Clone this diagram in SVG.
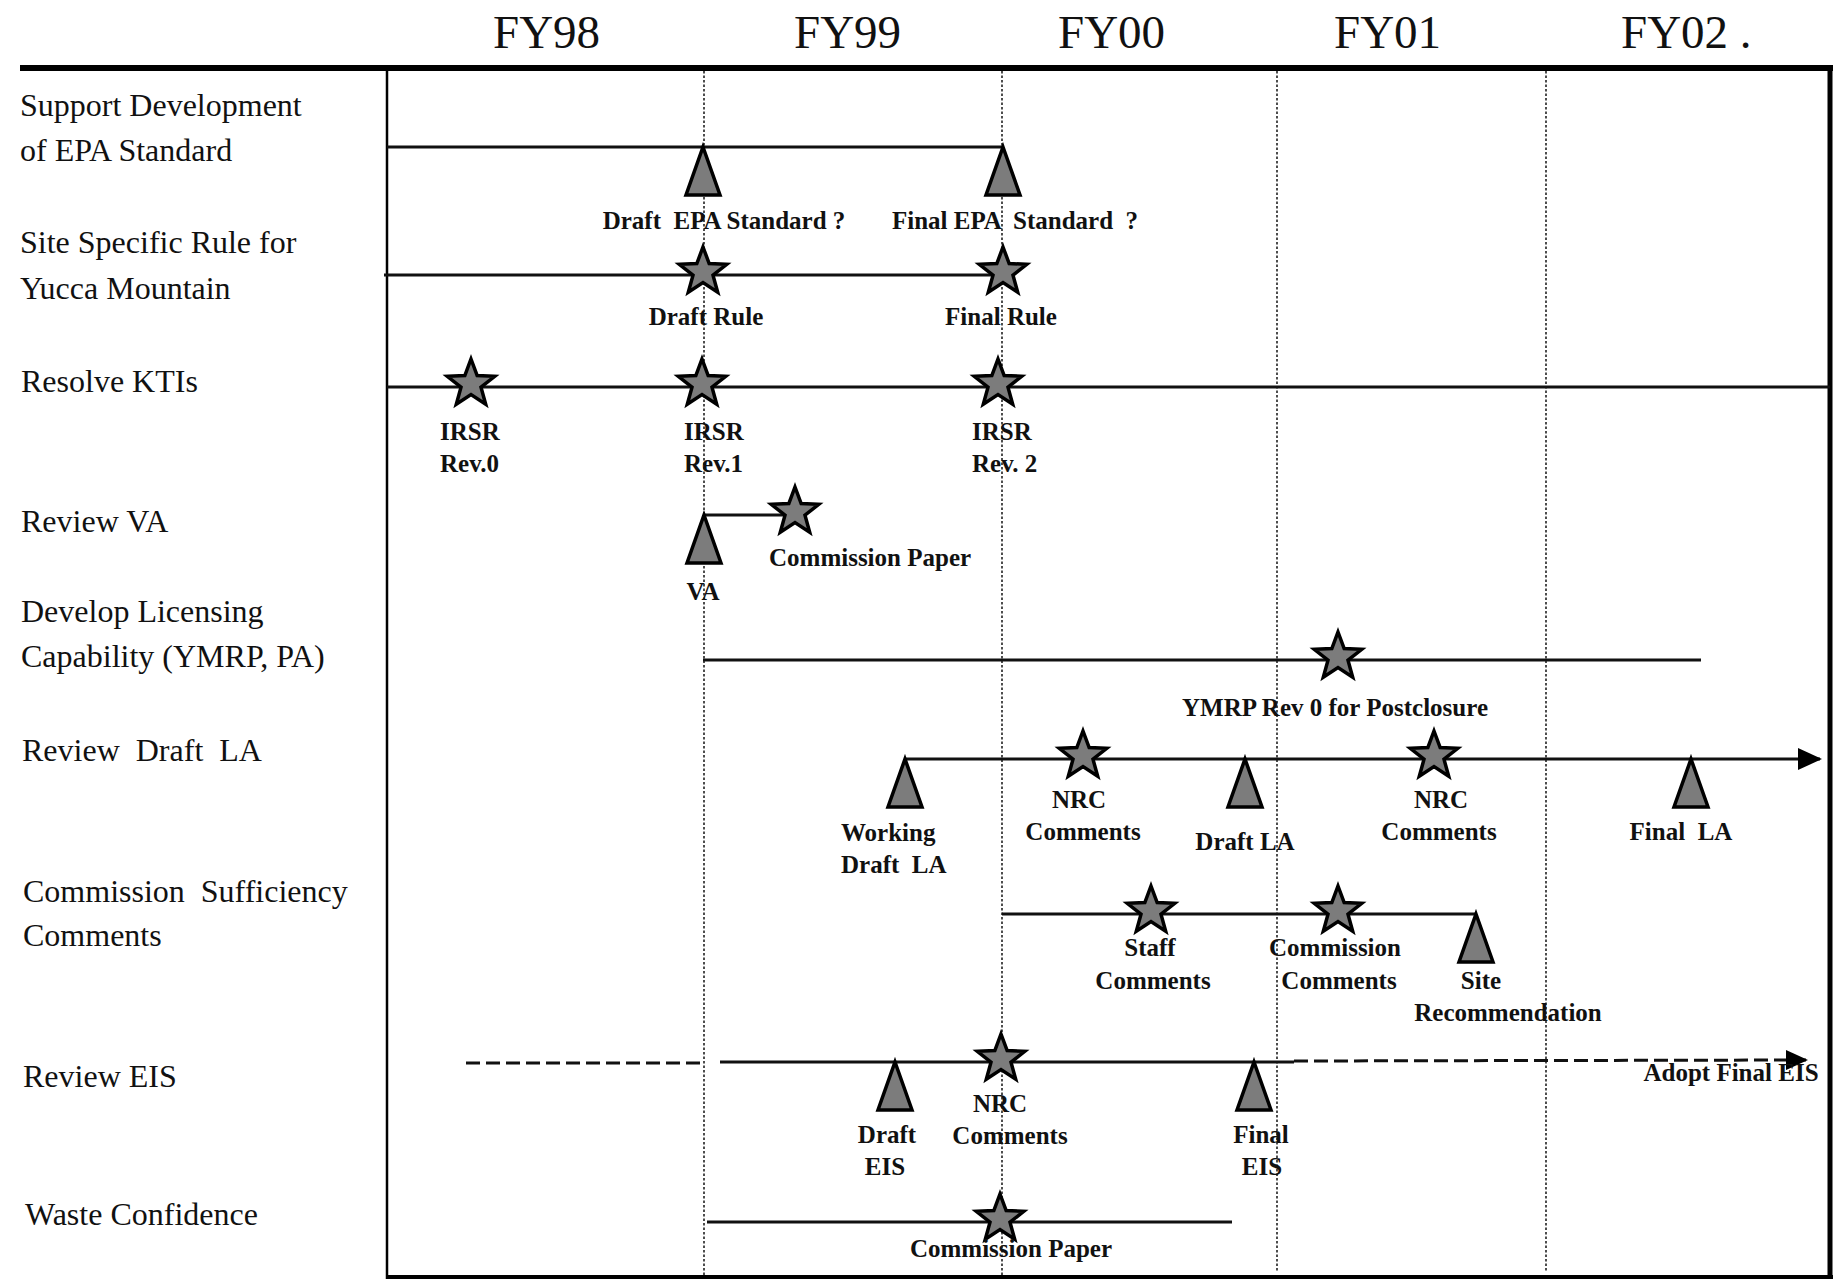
<svg xmlns="http://www.w3.org/2000/svg" xmlns:xlink="http://www.w3.org/1999/xlink" width="1837" height="1280" viewBox="0 0 1837 1280">
<style>
  text { font-family: "Liberation Serif", "Times New Roman", serif; fill: #111; }
  .hdr { font-size: 47px; }
  .row { font-size: 32px; }
  .lbl { font-size: 25px; font-weight: bold; }
  .m { text-anchor: middle; }
  .tl { stroke: #111; stroke-width: 3; fill: none; }
  .dash { stroke-dasharray: 14 6; }
  .grid { stroke: #222; stroke-width: 1.6; stroke-dasharray: 2.5 2; fill: none; }
  .frame { stroke: #000; fill: none; }
  .mk { fill: #7c7c7c; stroke: #000; stroke-width: 3.5; stroke-linejoin: miter; stroke-miterlimit: 10; }
</style>
<defs>
  <path id="star" d="M0,-28 L6.17,-11.49 L23.78,-10.73 L9.99,0.24 L14.69,17.23 L0,7.5 L-14.69,17.23 L-9.99,0.24 L-23.78,-10.73 L-6.17,-11.49 Z"/>
  <path id="tri" d="M0,0 L17,48 L-17,48 Z"/>
  <marker id="arr" markerUnits="userSpaceOnUse" markerWidth="24" markerHeight="22" viewBox="0 0 24 22" refX="22" refY="11" orient="auto">
    <path d="M0,0 L24,11 L0,22 Z" fill="#000"/>
  </marker>
  <marker id="arr2" markerUnits="userSpaceOnUse" markerWidth="22" markerHeight="20" viewBox="0 0 22 20" refX="20" refY="10" orient="auto">
    <path d="M0,0 L22,10 L0,20 Z" fill="#000"/>
  </marker>
</defs>

<rect x="0" y="0" width="1837" height="1280" fill="#fff"/>

<!-- frame and grid -->
<g id="frame">
  <line class="frame" x1="20" y1="68" x2="1833" y2="68" stroke-width="6"/>
  <line class="frame" x1="387" y1="68" x2="387" y2="1279" stroke-width="2.5"/>
  <line class="frame" x1="1830" y1="65" x2="1830" y2="1279" stroke-width="5"/>
  <line class="frame" x1="386" y1="1277" x2="1833" y2="1277" stroke-width="4"/>
  <line class="grid" x1="704" y1="71" x2="704" y2="1275"/>
  <line class="grid" x1="1002" y1="71" x2="1002" y2="1275"/>
  <line class="grid" x1="1277" y1="71" x2="1277" y2="1272"/>
  <line class="grid" x1="1546" y1="71" x2="1546" y2="1272"/>
</g>

<!-- year headers -->
<g id="headers">
  <text class="hdr" x="493" y="48">FY98</text>
  <text class="hdr" x="794" y="48">FY99</text>
  <text class="hdr" x="1058" y="48">FY00</text>
  <text class="hdr" x="1334" y="48">FY01</text>
  <text class="hdr" x="1621" y="48">FY02 .</text>
</g>

<!-- row labels -->
<g id="row-labels">
  <g id="row-epa"><text class="row" x="20" y="116">Support Development</text><text class="row" x="20" y="161">of EPA Standard</text></g>
  <g id="row-rule"><text class="row" x="20" y="253">Site Specific Rule for</text><text class="row" x="20" y="299">Yucca Mountain</text></g>
  <g id="row-kti"><text class="row" x="21" y="392">Resolve KTIs</text></g>
  <g id="row-va"><text class="row" x="21" y="532">Review VA</text></g>
  <g id="row-lic"><text class="row" x="21" y="622">Develop Licensing</text><text class="row" x="21" y="667">Capability (YMRP, PA)</text></g>
  <g id="row-la"><text class="row" x="22" y="761" xml:space="preserve">Review  Draft  LA</text></g>
  <g id="row-suff"><text class="row" x="23" y="902" xml:space="preserve">Commission  Sufficiency</text><text class="row" x="23" y="946">Comments</text></g>
  <g id="row-eis"><text class="row" x="23" y="1087">Review EIS</text></g>
  <g id="row-waste"><text class="row" x="25" y="1225">Waste Confidence</text></g>
</g>

<!-- connectors: timeline bars -->
<g id="connectors">
  <line class="tl" x1="387" y1="147" x2="1003" y2="147"/>
  <line class="tl" x1="384" y1="275" x2="1003" y2="275"/>
  <line class="tl" x1="387" y1="387" x2="1830" y2="387"/>
  <line class="tl" x1="704" y1="515" x2="795" y2="515"/>
  <line class="tl" x1="703" y1="660" x2="1701" y2="660"/>
  <line class="tl" x1="904" y1="759" x2="1820" y2="759" marker-end="url(#arr)"/>
  <line class="tl" x1="1002" y1="914" x2="1477" y2="914"/>
  <line class="tl dash" x1="466" y1="1063" x2="705" y2="1063"/>
  <line class="tl" x1="720" y1="1062" x2="1294" y2="1062"/>
  <line class="tl dash" x1="1294" y1="1061" x2="1806" y2="1060" marker-end="url(#arr2)"/>
  <line class="tl" x1="707" y1="1222" x2="1232" y2="1222"/>
</g>

<!-- milestones -->
<g id="m-draft-epa"><use xlink:href="#tri" class="mk" x="703" y="147"/><text class="lbl m" x="724" y="229" xml:space="preserve">Draft  EPA Standard ?</text></g>
<g id="m-final-epa"><use xlink:href="#tri" class="mk" x="1003" y="147"/><text class="lbl m" x="1015" y="229" xml:space="preserve">Final EPA  Standard  ?</text></g>
<g id="m-draft-rule"><use xlink:href="#star" class="mk" x="703" y="275"/><text class="lbl m" x="706" y="325">Draft Rule</text></g>
<g id="m-final-rule"><use xlink:href="#star" class="mk" x="1003" y="275"/><text class="lbl m" x="1001" y="325">Final Rule</text></g>

<g id="m-irsr0"><use xlink:href="#star" class="mk" x="471" y="387"/><text class="lbl" x="440" y="440">IRSR</text><text class="lbl" x="440" y="472">Rev.0</text></g>
<g id="m-irsr1"><use xlink:href="#star" class="mk" x="702" y="387"/><text class="lbl" x="684" y="440">IRSR</text><text class="lbl" x="684" y="472">Rev.1</text></g>
<g id="m-irsr2"><use xlink:href="#star" class="mk" x="998" y="387"/><text class="lbl" x="972" y="440">IRSR</text><text class="lbl" x="972" y="472">Rev. 2</text></g>

<g id="m-va"><use xlink:href="#tri" class="mk" x="704" y="515"/><text class="lbl m" x="703" y="600">VA</text></g>
<g id="m-va-paper"><use xlink:href="#star" class="mk" x="795" y="515"/><text class="lbl" x="769" y="566">Commission Paper</text></g>

<g id="m-ymrp"><use xlink:href="#star" class="mk" x="1338" y="660"/><text class="lbl m" x="1335" y="716">YMRP Rev 0 for Postclosure</text></g>

<g id="m-working-la"><use xlink:href="#tri" class="mk" x="905" y="759"/><text class="lbl" x="841" y="841">Working</text><text class="lbl" x="841" y="873" xml:space="preserve">Draft  LA</text></g>
<g id="m-nrc-la1"><use xlink:href="#star" class="mk" x="1083" y="759"/><text class="lbl m" x="1079" y="808">NRC</text><text class="lbl m" x="1083" y="840">Comments</text></g>
<g id="m-draft-la"><use xlink:href="#tri" class="mk" x="1245" y="759"/><text class="lbl m" x="1245" y="850">Draft LA</text></g>
<g id="m-nrc-la2"><use xlink:href="#star" class="mk" x="1434" y="759"/><text class="lbl m" x="1441" y="808">NRC</text><text class="lbl m" x="1439" y="840">Comments</text></g>
<g id="m-final-la"><use xlink:href="#tri" class="mk" x="1691" y="759"/><text class="lbl m" x="1681" y="840" xml:space="preserve">Final  LA</text></g>

<g id="m-staff"><use xlink:href="#star" class="mk" x="1151" y="914"/><text class="lbl m" x="1150" y="956">Staff</text><text class="lbl m" x="1153" y="989">Comments</text></g>
<g id="m-comm"><use xlink:href="#star" class="mk" x="1338" y="914"/><text class="lbl m" x="1335" y="956">Commission</text><text class="lbl m" x="1339" y="989">Comments</text></g>
<g id="m-site"><use xlink:href="#tri" class="mk" x="1476" y="914"/><text class="lbl m" x="1481" y="989">Site</text><text class="lbl m" x="1508" y="1021">Recommendation</text></g>

<g id="m-draft-eis"><use xlink:href="#tri" class="mk" x="895" y="1062"/><text class="lbl m" x="887" y="1143">Draft</text><text class="lbl m" x="885" y="1175">EIS</text></g>
<g id="m-nrc-eis"><use xlink:href="#star" class="mk" x="1001" y="1062"/><text class="lbl m" x="1000" y="1112">NRC</text><text class="lbl m" x="1010" y="1144">Comments</text></g>
<g id="m-final-eis"><use xlink:href="#tri" class="mk" x="1254" y="1062"/><text class="lbl m" x="1261" y="1143">Final</text><text class="lbl m" x="1262" y="1175">EIS</text></g>
<g id="m-adopt-eis"><text class="lbl m" x="1731" y="1081">Adopt Final EIS</text></g>

<g id="m-waste-paper"><use xlink:href="#star" class="mk" x="1000" y="1222"/><text class="lbl m" x="1011" y="1257">Commission Paper</text></g>
</svg>
